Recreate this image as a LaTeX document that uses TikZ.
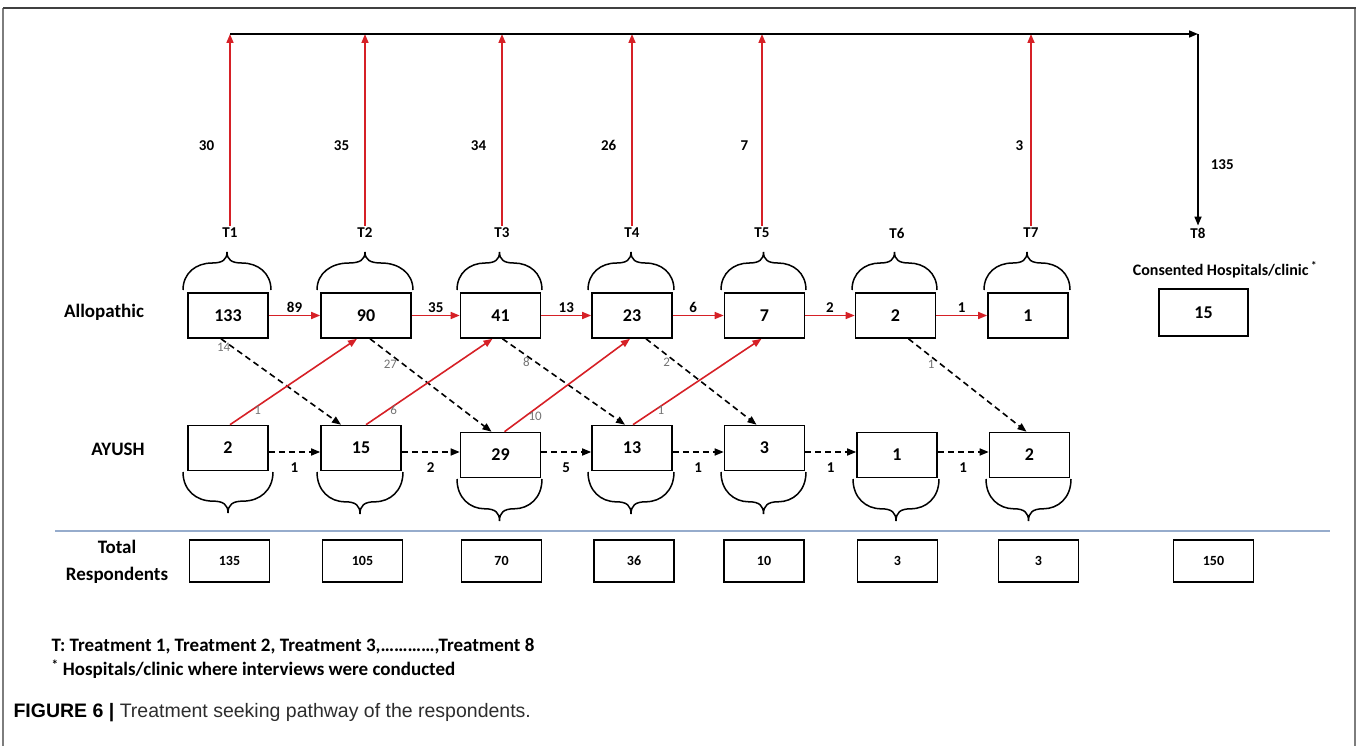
\documentclass[tikz,border=0pt]{standalone}
\usepackage{fontspec}
\setmainfont{Carlito}
\newfontfamily\capfont{Liberation Sans}
\usepackage{tikz}
\usetikzlibrary{arrows.meta}

\definecolor{arrowred}{RGB}{214,32,38}
\definecolor{ruleblue}{RGB}{150,172,204}
\definecolor{framegray}{RGB}{125,125,125}
\definecolor{capgray}{RGB}{45,45,45}

% curly bracket: left x, right x, base y, tip y
\newcommand{\curly}[4]{%
  \pgfmathsetmacro{\brW}{#2-#1}
  \pgfmathsetmacro{\brM}{(#1+#2)/2}
  \pgfmathsetmacro{\brD}{#4-#3}
  \draw[bracestyle] (#1,#3)
    .. controls (#1,{#3+0.45*\brD}) and ({#1+0.15*\brW},{#3+0.71*\brD}) .. ({#1+0.33*\brW},{#3+0.71*\brD})
    .. controls ({#1+0.45*\brW},{#3+0.71*\brD}) and (\brM,{#3+0.8*\brD}) .. (\brM,#4)
    .. controls (\brM,{#3+0.8*\brD}) and ({#2-0.45*\brW},{#3+0.71*\brD}) .. ({#2-0.33*\brW},{#3+0.71*\brD})
    .. controls ({#2-0.15*\brW},{#3+0.71*\brD}) and (#2,{#3+0.45*\brD}) .. (#2,#3);
}

\tikzset{
  box/.style={draw, line width=1.6pt, minimum width=80, minimum height=45, inner sep=0pt,
    font=\fontsize{18}{20}\selectfont\bfseries},
  totbox/.style={box, minimum height=42, font=\fontsize{14}{16}\selectfont\bfseries},
  redarr/.style={draw=arrowred, line width=1.6pt, -{Triangle[length=9pt,width=7pt]}},
  blkarr/.style={draw=black, line width=1.6pt, -{Triangle[length=9pt,width=7pt]}},
  dasharr/.style={blkarr, dash pattern=on 6pt off 4pt},
  num/.style={font=\fontsize{15}{17}\selectfont\bfseries, inner sep=2pt},
  small/.style={font=\fontsize{13}{15}\selectfont, text=black!55, inner sep=2pt},
  rowlabel/.style={font=\fontsize{19}{27}\selectfont\bfseries},
  note/.style={anchor=west, font=\fontsize{19}{21}\selectfont\bfseries},
  bracestyle/.style={line width=1.5pt},
}

\begin{document}
\begin{tikzpicture}[x=1pt, y=-1pt]
  \useasboundingbox (0,0) rectangle (1358,746);
  % frame
  \draw[framegray, line width=1.5pt] (3,8) -- (3,746);
  \draw[framegray, line width=1.5pt] (1355,8) -- (1355,746);
  \draw[black!75, line width=1.5pt] (3,8) -- (1356,8);

  % row labels
  \node[rowlabel] (allo) at (104,312) {Allopathic};
  \node[rowlabel] (ayush) at (118,449) {AYUSH};
  \node[rowlabel, align=center] (total) at (117,562) {Total\\Respondents};

  % treatment labels
  \node[num] (tl1) at (230,233) {T1}; \node[num] (tl2) at (365,233) {T2};
  \node[num] (tl3) at (502,233) {T3}; \node[num] (tl4) at (632,233) {T4};
  \node[num] (tl5) at (762,233) {T5}; \node[num] (tl6) at (897,233) {T6};
  \node[num] (tl7) at (1031,233) {T7}; \node[num] (tl8) at (1198,233) {T8};
  \coordinate (topline) at (0,34);

  % allopathic boxes
  \node[box] (a1) at (228,315.5) {133};
  \node[box, minimum width=90] (a2) at (366,315.5) {90};
  \node[box] (a3) at (500.5,315.5) {41};
  \node[box] (a4) at (632,315.5) {23};
  \node[box] (a5) at (764.5,315.5) {7};
  \node[box] (a6) at (895.5,315.5) {2};
  \node[box] (a7) at (1028,315.5) {1};
  \node[num, font=\fontsize{16}{18}\selectfont\bfseries] (cons) at (1225,270) {Consented Hospitals/clinic\,\textsuperscript{*}};
  \node[box, minimum width=89, minimum height=47] (hosp) at (1203.5,312.5) {15};

  % AYUSH boxes
  \node[box] (y1) at (228,448) {2};
  \node[box] (y2) at (361,448) {15};
  \node[box] (y3) at (500.5,455) {29};
  \node[box] (y4) at (632,448) {13};
  \node[box] (y5) at (764.5,448) {3};
  \node[box] (y6) at (897,455) {1};
  \node[box] (y7) at (1029.5,455) {2};
  \coordinate (ylev) at (0,452);

  % totals
  \draw[ruleblue, line width=1.5pt] (55,531) -- (1330,531);
  \node[totbox] (t1) at (229.5,561) {135}; \node[totbox] (t2) at (362.5,561) {105};
  \node[totbox] (t3) at (501.5,561) {70};  \node[totbox] (t4) at (634,561) {36};
  \node[totbox] (t5) at (764,561) {10};    \node[totbox] (t6) at (897.5,561) {3};
  \node[totbox] (t7) at (1038.5,561) {3};  \node[totbox] (t8) at (1213.5,561) {150};

  % exits to consented hospitals
  \draw[redarr] (tl1) -- node[pos=0.42, left=13pt, num] {30} (tl1 |- topline);
  \draw[redarr] (tl2) -- node[pos=0.42, left=13pt, num] {35} (tl2 |- topline);
  \draw[redarr] (tl3) -- node[pos=0.42, left=13pt, num] {34} (tl3 |- topline);
  \draw[redarr] (tl4) -- node[pos=0.42, left=13pt, num] {26} (tl4 |- topline);
  \draw[redarr] (tl5) -- node[pos=0.42, left=11pt, num] {7} (tl5 |- topline);
  \draw[redarr] (tl7) -- node[pos=0.42, left=5pt, num] {3} (tl7 |- topline);
  \draw[blkarr] (tl1 |- topline) -- (tl8 |- topline);
  \draw[blkarr] (tl8 |- topline) -- node[pos=0.68, right=10pt, num] {135} (tl8);

  % braces
  \curly{183}{271}{290}{252} \curly{317}{413}{290}{252}
  \curly{457}{542}{290}{252} \curly{588}{674}{290}{252}
  \curly{721}{806}{290}{252} \curly{852}{937}{290}{252}
  \curly{984}{1070}{290}{252}
  \curly{273}{183}{472}{513} \curly{403}{317}{472}{514}
  \curly{542}{457}{479}{521} \curly{674}{588}{472}{514}
  \curly{806}{721}{472}{514} \curly{939}{853}{479}{521}
  \curly{1071}{986}{479}{521}

  % allopathic to allopathic
  \draw[redarr] (a1) -- node[above, num] {89} (a2);
  \draw[redarr] (a2) -- node[above, num] {35} (a3);
  \draw[redarr] (a3) -- node[above, num] {13} (a4);
  \draw[redarr] (a4) -- node[above, pos=0.4, num] {6} (a5);
  \draw[redarr] (a5) -- node[above, num] {2} (a6);
  \draw[redarr] (a6) -- node[above, num] {1} (a7);

  % AYUSH to AYUSH
  \draw[dasharr] (y1.east |- ylev) -- node[below=8pt, num] {1} (y2.west |- ylev);
  \draw[dasharr] (y2.east |- ylev) -- node[below=8pt, num] {2} (y3.west |- ylev);
  \draw[dasharr] (y3.east |- ylev) -- node[below=8pt, num] {5} (y4.west |- ylev);
  \draw[dasharr] (y4.east |- ylev) -- node[below=8pt, num] {1} (y5.west |- ylev);
  \draw[dasharr] (y5.east |- ylev) -- node[below=8pt, num] {1} (y6.west |- ylev);
  \draw[dasharr] (y6.east |- ylev) -- node[below=8pt, num] {1} (y7.west |- ylev);

  % allopathic to AYUSH
  \draw[dasharr] ([xshift=-7]a1.south) -- node[pos=0.1, left, small] {14} ([xshift=-20]y2.north);
  \draw[dasharr] ([xshift=4]a2.south) -- node[pos=0.27, left=3pt, small] {27} ([xshift=-9]y3.north);
  \draw[dasharr] ([xshift=2]a3.south) -- node[pos=0.27, left=3pt, small] {8} ([xshift=-7]y4.north);
  \draw[dasharr] ([xshift=14]a4.south) -- node[pos=0.27, left=3pt, small] {2} ([xshift=-8]y5.north);
  \draw[dasharr] ([xshift=13]a6.south) -- node[pos=0.27, left=3pt, small] {1} ([xshift=-3]y7.north);

  % AYUSH to allopathic
  \draw[redarr] ([xshift=2]y1.north) -- node[pos=0.17, right, small] {1} ([xshift=-9]a2.south);
  \draw[redarr] ([xshift=5]y2.north) -- node[pos=0.17, right, small] {6} ([xshift=-8]a3.south);
  \draw[redarr] ([xshift=4]y3.north) -- node[pos=0.17, right, small] {10} ([xshift=-2]a4.south);
  \draw[redarr] ([xshift=1]y4.north) -- node[pos=0.17, right, small] {1} ([xshift=-3]a5.south);

  % notes and caption
  \node[note] (note1) at (48,646)
    {T: Treatment 1, Treatment 2, Treatment 3,…………,Treatment 8};
  \node[note] (note2) at (48,669)
    {\textsuperscript{*} Hospitals/clinic where interviews were conducted};
  \node[anchor=west, text=capgray, font=\capfont\fontsize{19.5}{22}\selectfont] (caption) at (10,713)
    {\textbf{\color{black}FIGURE 6 |} Treatment seeking pathway of the respondents.};
\end{tikzpicture}
\end{document}
